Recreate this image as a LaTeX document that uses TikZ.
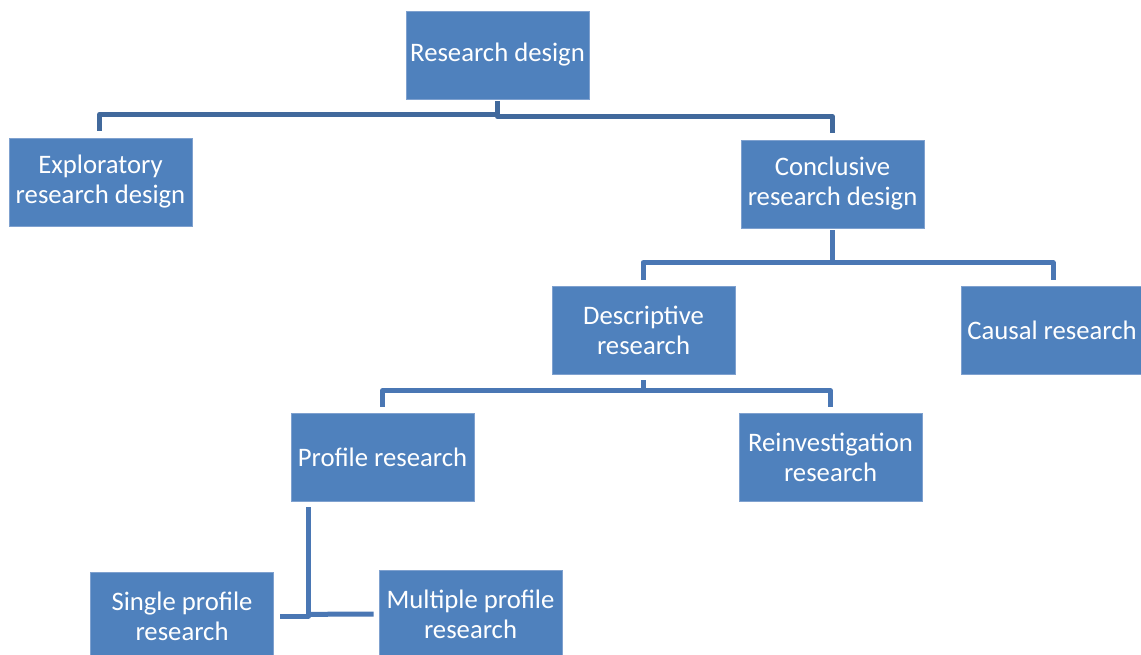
\documentclass[tikz,border=0pt]{standalone}
\usepackage{fontspec}
\setmainfont{Carlito}
\usetikzlibrary{calc}
\definecolor{boxfill}{HTML}{4F81BD}
\definecolor{boxedge}{HTML}{7FA1CF}
\definecolor{lineA}{HTML}{41699C}
\definecolor{lineB}{HTML}{4A77B4}
\tikzset{
  box/.style={rectangle, fill=boxfill, draw=boxedge, line width=0.7pt,
    minimum width=183pt, minimum height=88pt, inner sep=0pt,
    align=center, text=white, font=\fontsize{26.7}{30}\selectfont},
  conn/.style={line width=5pt, draw=lineB, line join=round},
  connA/.style={conn, draw=lineA}
}
\begin{document}
\begin{tikzpicture}[x=1pt,y=-1pt]
\useasboundingbox (0,0) rectangle (1141,655);
\clip (0,0) rectangle (1141,655);
\node[box] (rd)  at (497.5,55)  {Research design};
\node[box] (exp) at (100.5,182) {Exploratory\\research design};
\node[box] (con) at (832.5,184) {Conclusive\\research design};
\node[box] (des) at (643.5,330) {Descriptive\\research};
\node[box, minimum width=182pt] (cau) at (1052,330) {Causal research};
\node[box] (pro) at (382.5,457) {Profile research};
\node[box] (rei) at (830.5,457) {Reinvestigation\\research};
\node[box] (sin) at (182,616) {Single profile\\research};
\node[box] (mul) at (470.5,614) {Multiple profile\\research};
% level 1
\draw[connA] ($(exp.north)+(-1,-7)$) |- ($(rd.south)+(0,15)$) -- ($(rd.south)+(0,2)$);
\draw[connA] ($(rd.south)+(0,8)$) |- ($(con.north)+(0,-23)$) -- ($(con.north)+(0,-7)$);
% level 2
\draw[conn] ($(con.south)+(0,2)$) -- ($(con.south)+(0,35)$);
\draw[conn] ($(des.north)+(-0.5,-6)$) |- ($(cau.north)+(1,-23)$) -- ($(cau.north)+(1,-6)$);
% level 3
\draw[conn] ($(des.south)+(0,6)$) -- ($(des.south)+(0,17)$);
\draw[conn] ($(pro.north)+(0,-6)$) |- ($(rei.north)+(0,-22)$) -- ($(rei.north)+(0,-6)$);
% level 4
\draw[conn] ($(pro.south)+(-74,6)$) |- ($(sin.east)+(6,0)$);
\draw[conn] ($(pro.south)+(-74,113)$) -- ($(mul.west)+(-5,0)$);
\end{tikzpicture}
\end{document}
